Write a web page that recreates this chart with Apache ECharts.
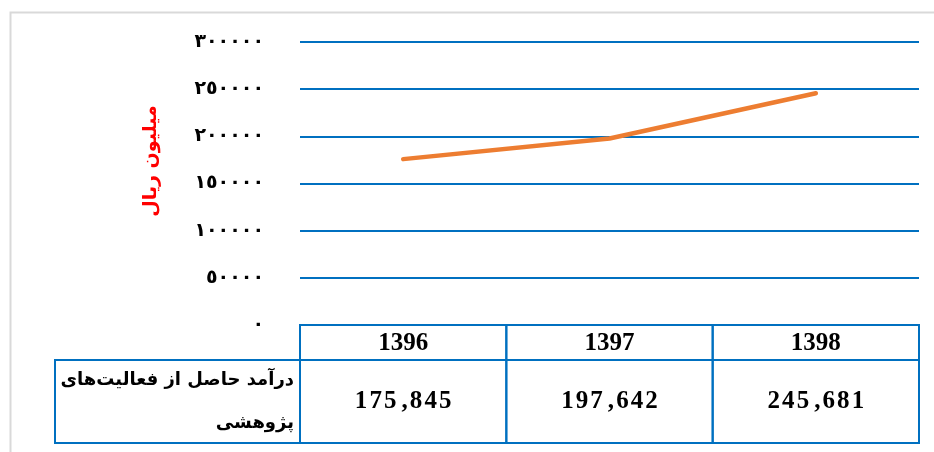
<!DOCTYPE html>
<html>
<head>
<meta charset="utf-8">
<script src="https://cdn.jsdelivr.net/npm/echarts@6/dist/echarts.min.js"></script>
<style>
html,body{margin:0;padding:0;background:#fff;}
#chart{width:934px;height:452px;}
</style>
</head>
<body>
<div id="chart"></div>
<script>
// ---- data ----
var years = ['1396', '1397', '1398'];
var revenue = [175845, 197642, 245681];
var yTicks = [0, 50000, 100000, 150000, 200000, 250000, 300000];
var yAxisTitle = 'میلیون ریال';
var rowLabelLines = ['درآمد حاصل از فعالیت‌های', 'پژوهشی'];

// ---- styles ----
var BLUE = '#0070C0';
var ORANGE = '#ED7D31';
var HEADER_H = 35;
var ROW_H = 83;

function toArabicDigits(n) {
  var d = ['٠','١','٢','٣','٤','٥','٦','٧','٨','٩'];
  return String(n).replace(/[0-9]/g, function (c) { return d[+c]; });
}
function spaced(s) {
  return s.split('').join('\u200A');
}
function fmtValue(v) {
  var s = String(v);
  return spaced(s.slice(0, s.length - 3)) + '\u2009,\u200A' + spaced(s.slice(s.length - 3));
}

var chart = echarts.init(document.getElementById('chart'), null, {renderer: 'canvas'});
var option = {
  animation: false,
  backgroundColor: '#fff',
  grid: {left: 300, right: 15, top: 42, bottom: 127, containLabel: false},
  xAxis: {
    type: 'category',
    data: years,
    boundaryGap: true,
    axisLine: {show: false},
    axisTick: {show: false},
    axisLabel: {show: false},
    splitLine: {show: false}
  },
  yAxis: {
    type: 'value',
    min: yTicks[0],
    max: yTicks[yTicks.length - 1],
    interval: yTicks[1] - yTicks[0],
    axisLine: {show: false},
    axisTick: {show: false},
    axisLabel: {
      margin: 36,
      color: '#000',
      fontFamily: 'DejaVu Sans',
      fontWeight: 'bold',
      fontSize: 19,
      formatter: function (v) { return toArabicDigits(v); }
    },
    splitLine: {lineStyle: {color: BLUE, width: 2}},
    name: yAxisTitle,
    nameLocation: 'middle',
    nameGap: 139,
    nameRotate: 90,
    nameTextStyle: {
      color: '#FF0000',
      fontFamily: 'DejaVu Sans',
      fontWeight: 'bold',
      fontSize: 19,
      padding: [0, 0, 0, 45]
    }
  },
  graphic: [
    {type: 'rect', left: 8, top: 10, shape: {width: 1000, height: 1000},
     style: {fill: 'none', stroke: '#d9d9d9', lineWidth: 2}, silent: true},
    {type: 'rect', shape: {x: 55, y: 325 + HEADER_H, width: 245, height: ROW_H},
     style: {fill: 'none', stroke: BLUE, lineWidth: 2}, z: 10},
    {type: 'text', style: {text: rowLabelLines[0], x: 294, y: 380, align: 'right', verticalAlign: 'middle',
      font: 'bold 18px "DejaVu Sans"', fill: '#000'}, z: 10},
    {type: 'text', style: {text: rowLabelLines[1], x: 294, y: 423, align: 'right', verticalAlign: 'middle',
      font: 'bold 18px "DejaVu Sans"', fill: '#000'}, z: 10}
  ],
  series: [
    {
      type: 'line',
      data: revenue,
      showSymbol: false,
      symbol: 'none',
      lineStyle: {color: ORANGE, width: 4.5, cap: 'round', join: 'round'},
      z: 5
    },
    {
      type: 'custom',
      clip: false,
      z: 10,
      data: years.map(function (y, i) { return [i, revenue[i]]; }),
      renderItem: function (params, api) {
        var idx = api.value(0);
        var c = api.coord([idx, 0]);
        var bw = api.size([1, 0])[0];
        var x0 = c[0] - bw / 2, y0 = c[1];
        return {
          type: 'group',
          children: [
            {type: 'rect', shape: {x: x0, y: y0, width: bw, height: HEADER_H},
             style: {fill: 'none', stroke: BLUE, lineWidth: 2}},
            {type: 'rect', shape: {x: x0, y: y0 + HEADER_H, width: bw, height: ROW_H},
             style: {fill: 'none', stroke: BLUE, lineWidth: 2}},
            {type: 'text', style: {text: years[idx], x: c[0], y: y0 + HEADER_H / 2 + 1,
              align: 'center', verticalAlign: 'middle', fill: '#000',
              fontFamily: 'Liberation Serif', fontWeight: 'bold', fontSize: 25}},
            {type: 'text', style: {text: fmtValue(revenue[idx]), x: c[0], y: y0 + HEADER_H + 42,
              align: 'center', verticalAlign: 'middle', fill: '#000',
              fontFamily: 'Liberation Serif', fontWeight: 'bold', fontSize: 25}}
          ]
        };
      }
    }
  ]
};
chart.setOption(option);
</script>
</body>
</html>
